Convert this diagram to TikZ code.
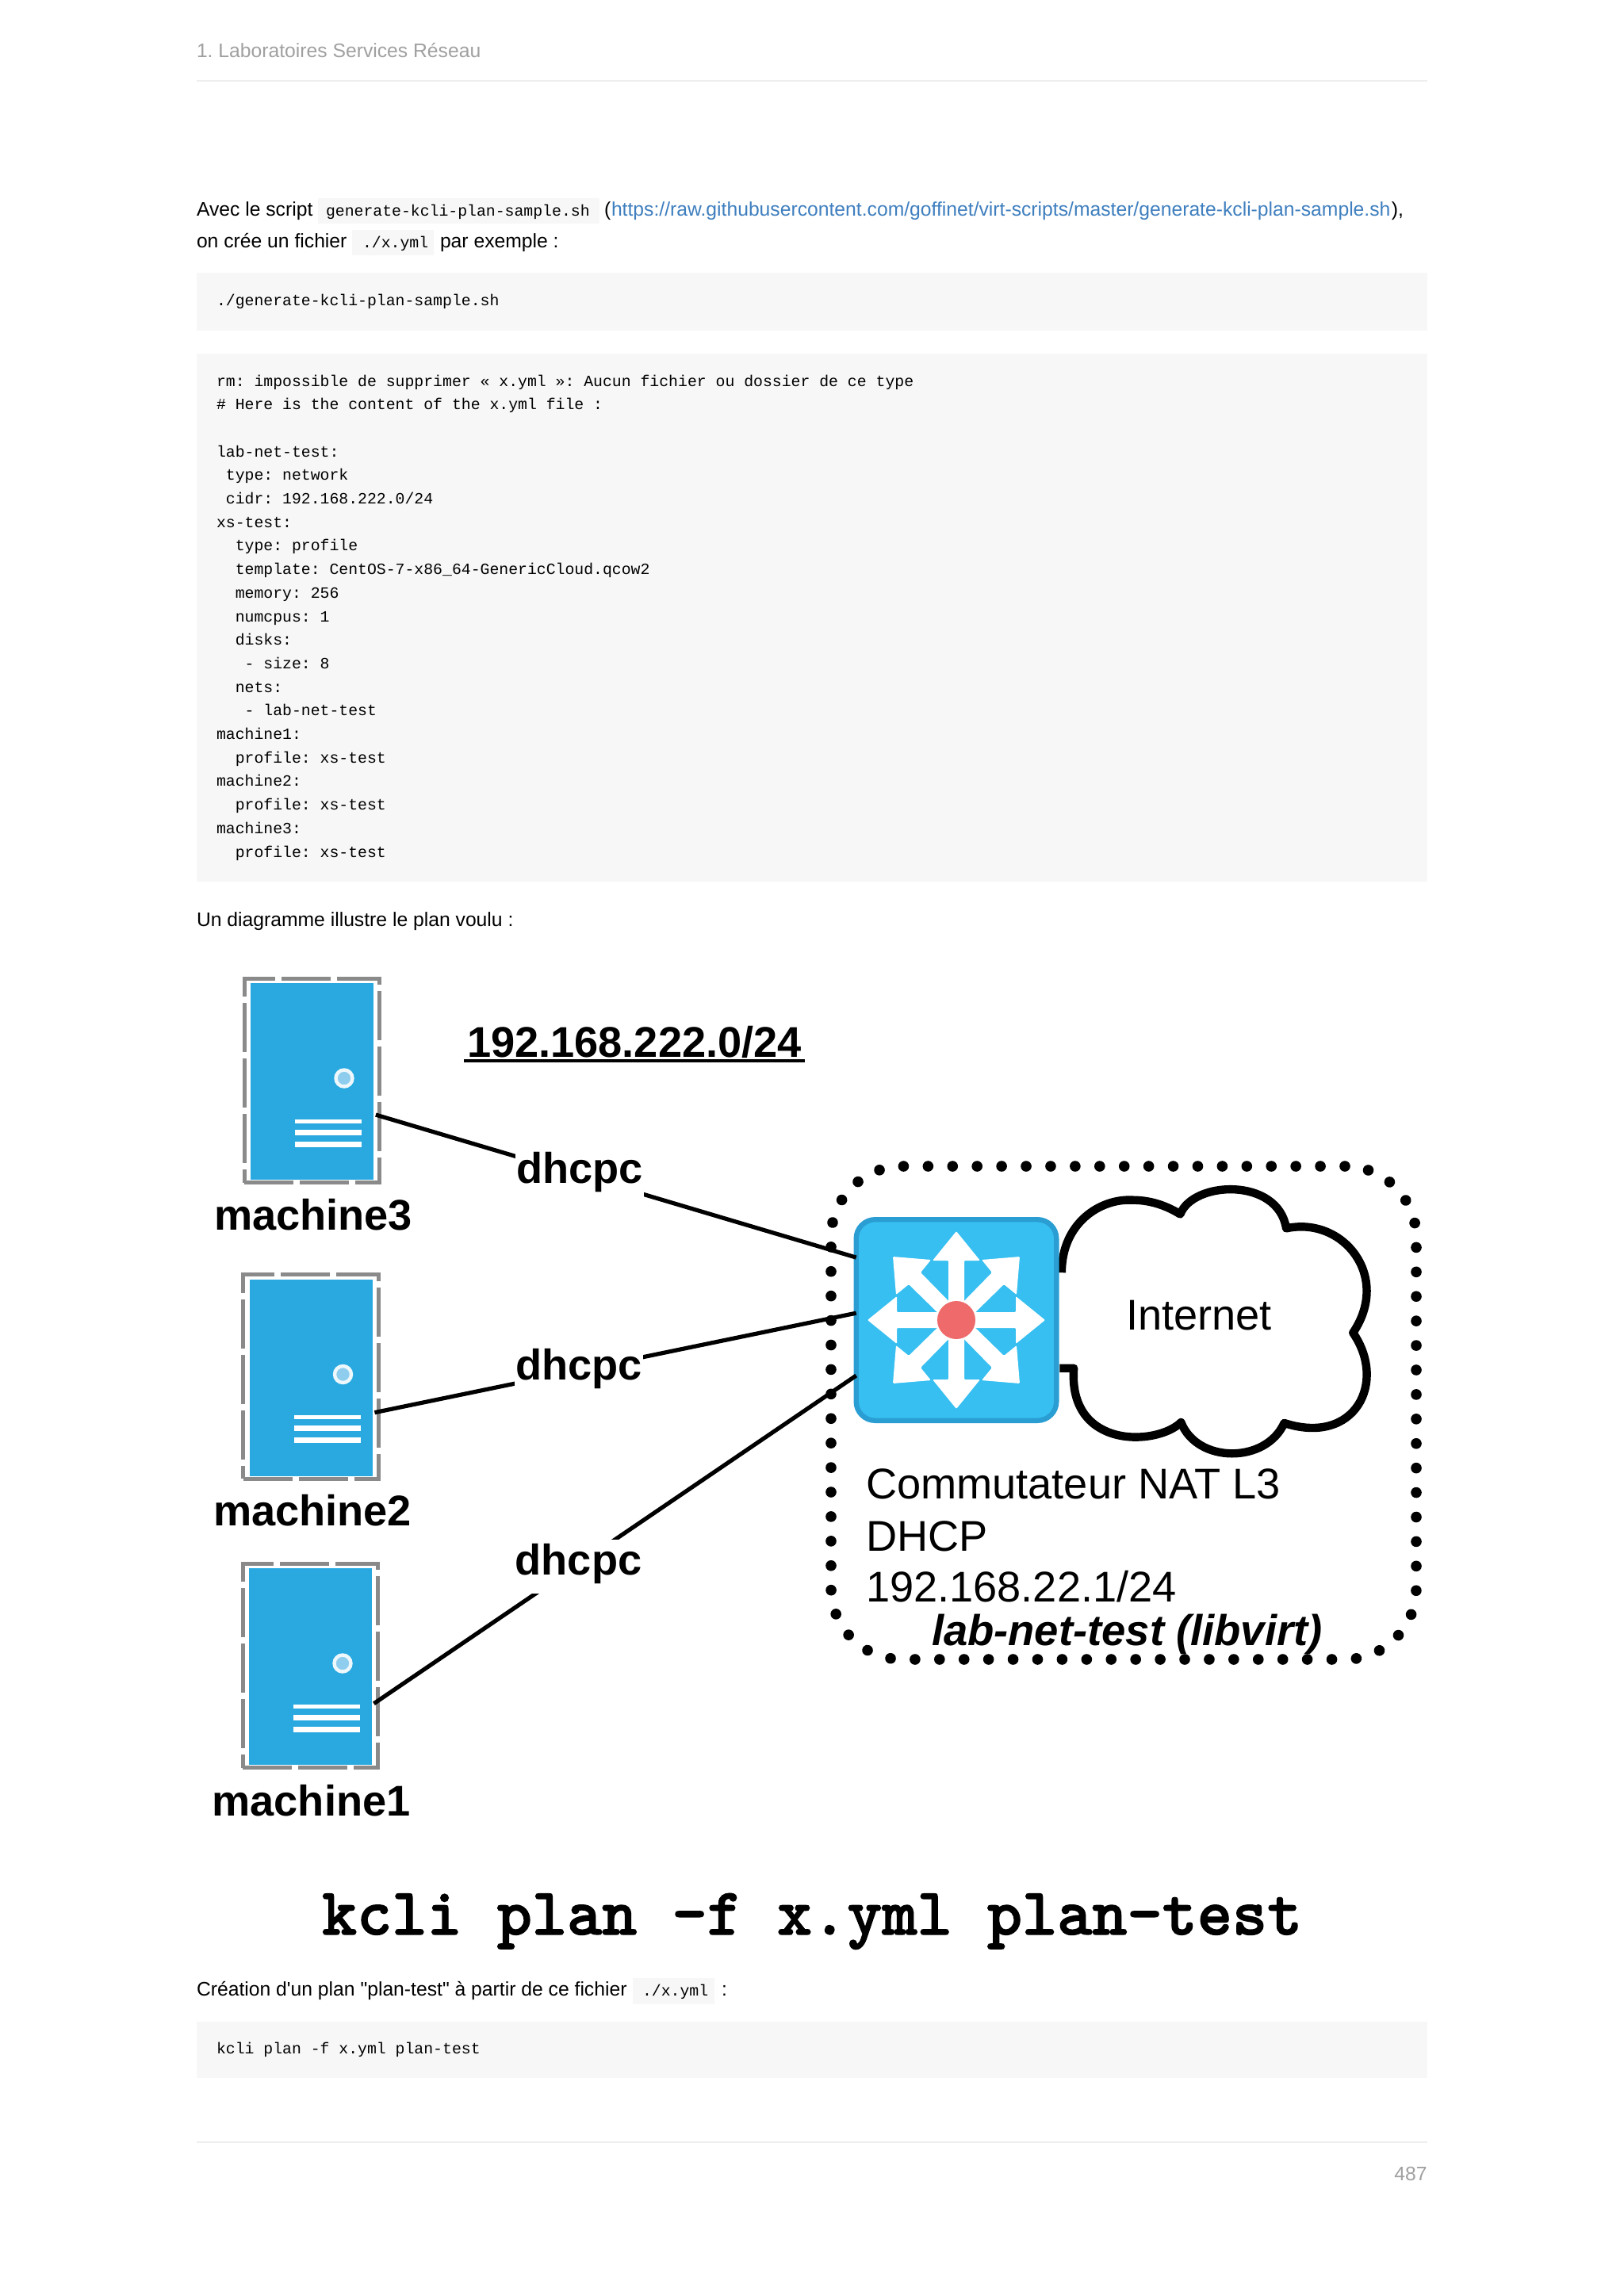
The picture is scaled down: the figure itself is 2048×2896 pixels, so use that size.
\documentclass[tikz,border=0pt]{standalone}
\usepackage{fontspec}
\setmainfont{Liberation Sans}
\newfontfamily\codefam{Liberation Mono}
\newfontfamily\plainfam{Liberation Sans}
\font\cmdfont="[lmmonolt10-bold]:embolden=1.6" at 42.05pt
\newcommand\fsz[1]{\fontsize{#1pt}{1.2\dimexpr#1pt\relax}\selectfont}
\definecolor{headgray}{HTML}{A0A0A0}
\definecolor{rulegray}{HTML}{EEEEEE}
\definecolor{codebg}{HTML}{F7F7F7}
\definecolor{linkblue}{HTML}{3F7FBF}
\definecolor{srvblue}{HTML}{29A9E0}
\definecolor{srvframe}{HTML}{8A8A8A}
\definecolor{ledblue}{HTML}{8FCDEE}
\definecolor{swfill}{HTML}{36BFF0}
\definecolor{swedge}{HTML}{2A9ED3}
\definecolor{swred}{HTML}{EF6A6A}
\tikzset{
  bodytext/.style={anchor=base west,inner sep=0pt,outer sep=0pt,font=\plainfam\fsz{12.35}},
  codetext/.style={anchor=base west,inner sep=0pt,outer sep=0pt,font=\codefam\fsz{9.9}},
  codeblock/.style={anchor=north west,fill=codebg,inner sep=0pt,outer sep=0pt,minimum width=776pt},
  inlinebg/.style={anchor=north west,fill=codebg,inner sep=0pt,outer sep=0pt},
  biglabel/.style={anchor=base west,inner sep=0pt,outer sep=0pt,font=\bfseries\fsz{27.1}},
  thinlabel/.style={anchor=base west,inner sep=0pt,outer sep=0pt,font=\fsz{27.1}},
  dhcplabel/.style={anchor=base,fill=white,inner sep=0pt,outer sep=0pt,minimum width=81pt,font=\bfseries\fsz{27.1}},
  wire/.style={draw=black,line width=2.6pt,shorten <=1.5pt},
}
\newcommand\machinebox[3]{%
  \node[draw=srvframe,line width=2.4pt,dash pattern=on 31pt off 4pt,inner sep=0pt,outer sep=0pt,
        minimum width=85.3pt,minimum height=128.8pt] (#1frame) at (#2,#3-1) {};
  \node[fill=srvblue,inner sep=0pt,outer sep=0pt,minimum width=77.5pt,minimum height=124pt] (#1) at (#2,#3) {};
  \node[circle,fill=ledblue,draw=white!85!ledblue,line width=2.2pt,inner sep=0pt,minimum size=10.5pt] (#1led) at (#2+40.5,#3-4) {};
  \fill[white] (#2-21.5,#3+47.5) rectangle (#2+62.5,#3+52.5);
  \fill[white] (#2-21.5,#3+60.5) rectangle (#2+62.5,#3+67.5);
  \fill[white] (#2-21.5,#3+75.5) rectangle (#2+62.5,#3+82.5);
}
\begin{document}
\frenchspacing
\begin{tikzpicture}[x=0.5pt,y=-0.5pt]
\useasboundingbox (0,0) rectangle (2048,2896);
\fill[white] (0,0) rectangle (2048,2896);

% header and footer
\node[bodytext,text=headgray] (head) at (248,72) {1. Laboratoires Services Réseau};
\fill[rulegray] (248,101) rectangle (1800,103);
\fill[rulegray] (248,2701) rectangle (1800,2703);
\node[anchor=base east,inner sep=0pt,font=\fsz{12.35},text=headgray] (pageno) at (1800,2750) {487};

% first paragraph
\node[inlinebg,minimum width=177.5pt,minimum height=16pt] (bgA) at (401,250) {};
\node[inlinebg,minimum width=51.5pt,minimum height=16pt] (bgB) at (444,290) {};
\node[bodytext] (p1) at (248,272) {Avec le script};
\node[codetext] (c1) at (411,272) {generate-kcli-plan-sample.sh};
\node[bodytext] (p2) at (762,272) {(};
\node[bodytext,text=linkblue] (url) at (771,272) {https://raw.githubusercontent.com/goffinet/virt-scripts/master/generate-kcli-plan-sample.sh};
\node[bodytext,anchor=base east] (p3) at (1770,272) {),};
\node[bodytext] (p4) at (248,312) {on crée un fichier};
\node[codetext] (c2) at (457,312) {./x.yml};
\node[bodytext] (p5) at (555,312) {par exemple :};

% code blocks
\node[codeblock,minimum height=36.5pt] (blockA) at (248,344) {};
\node[codetext] (a1) at (273,385) {./generate-kcli-plan-sample.sh};
\node[codeblock,minimum height=333pt] (blockB) at (248,446) {};
\foreach \codeline [count=\n] in {
  rm: impossible de supprimer « x.yml »: Aucun fichier ou dossier de ce type,
  \# Here is the content of the x.yml file :,
  {},
  lab-net-test:,
  ~type: network,
  ~cidr: 192.168.222.0/24,
  xs-test:,
  ~~type: profile,
  ~~template: CentOS-7-x86\_64-GenericCloud.qcow2,
  ~~memory: 256,
  ~~numcpus: 1,
  ~~disks:,
  ~~~- size: 8,
  ~~nets:,
  ~~~- lab-net-test,
  machine1:,
  ~~profile: xs-test,
  machine2:,
  ~~profile: xs-test,
  machine3:,
  ~~profile: xs-test}
  {\node[codetext] (code\n) at (273,{487+29.7*(\n-1)}) {\codeline};}

\node[bodytext] (p6) at (248,1168) {Un diagramme illustre le plan voulu :};

% dotted network frame
\node[draw=black,line width=6.8pt,line cap=round,dash pattern=on 0.01pt off 15.45pt,rounded corners=45pt,
      inner sep=0pt,outer sep=0pt,minimum width=369pt,minimum height=311pt] (net) at (1417,1782) {};

% cloud
\begin{scope}[shift={(510pt,-720pt)},x=0.2551pt,y=-0.2232pt]
\draw[line width=5.2pt,line join=round] (625,370)
  .. controls (625,230) and (720,160) .. (800,165)
  .. controls (850,165) and (890,185) .. (918,205)
  .. controls (950,110) and (1160,100) .. (1180,245)
  .. controls (1320,210) and (1440,380) .. (1345,540)
  .. controls (1430,680) and (1350,860) .. (1175,795)
  .. controls (1130,910) and (960,910) .. (920,793)
  .. controls (860,860) and (640,870) .. (655,640)
  -- (620,640);
\end{scope}

% machines
\machinebox{mthree}{393.5}{1364}
\machinebox{mtwo}{392}{1737.5}
\machinebox{mone}{391.5}{2102}

% switch
\node[fill=swfill,draw=swedge,line width=3.2pt,rounded corners=12pt,inner sep=0pt,outer sep=0pt,
      minimum width=126.3pt,minimum height=126.8pt] (sw) at (1206,1665) {};
\begin{scope}[shift={(603pt,-832.5pt)}]
\foreach \a in {0,90,180,270}{
  \begin{scope}[rotate=\a]
  \fill[white,rounded corners=0.6pt] (0,-112) -- (30,-75) -- (10,-75) -- (10,0) -- (-10,0) -- (-10,-75) -- (-30,-75) -- cycle;
  \fill[white,rounded corners=0.6pt] (-80,-80) -- (-32,-76) -- (-45,-60) -- (0,-14) -- (-14,0) -- (-60,-45) -- (-76,-32) -- cycle;
  \end{scope}
}
\end{scope}
\node[circle,fill=swred,inner sep=0pt,outer sep=0pt,minimum size=24pt] (swcore) at (sw.center) {};

% connectors
\draw[wire] (mthree.-28.5) -- (sw.148.2);
\draw[wire] (mtwo.-30.6) -- (sw.176.9);
\draw[wire] (mone.-32.5) -- (sw.209.5);

% labels
\node[dhcplabel,text height=23.5pt,text depth=10pt] (dA) at (731,1492) {dhcpc};
\node[dhcplabel,text height=20pt,text depth=10pt] (dB) at (730,1740) {dhcpc};
\node[dhcplabel,text height=22pt,text depth=12pt] (dC) at (729.5,1986) {dhcpc};
\node[biglabel] (lthree) at (270,1551) {machine3};
\node[biglabel] (ltwo) at (269,1924.5) {machine2};
\node[biglabel] (lone) at (267.5,2290) {machine1};
\node[anchor=base west,inner sep=0pt,outer sep=0pt,font=\bfseries\fsz{27.1}] (subnet) at (589,1333) {192.168.222.0/24};
\draw[line width=1.8pt] ([xshift=-2pt,yshift=-2.6pt]subnet.base west) -- ([xshift=2pt,yshift=-2.6pt]subnet.base east);
\node[thinlabel] (inet) at (1420,1677) {Internet};
\node[thinlabel] (tA) at (1092,1890) {Commutateur NAT L3};
\node[thinlabel] (tB) at (1092,1956) {DHCP};
\node[thinlabel] (tC) at (1092,2020) {192.168.22.1/24};
\node[anchor=base west,inner sep=0pt,outer sep=0pt,font=\bfseries\itshape\fsz{27.2}] (labnet) at (1175,2075) {lab-net-test (libvirt)};

% command
\node[anchor=base west,inner sep=0pt,outer sep=0pt,font=\cmdfont] (cmd) at (406,2440) {kcli plan -f x.yml plan-test};

% last paragraph
\node[inlinebg,minimum width=51.5pt,minimum height=16.5pt] (bgC) at (798,2495) {};
\node[bodytext] (p7) at (248,2517) {Création d'un plan "plan-test" à partir de ce fichier};
\node[codetext] (c3) at (810,2517) {./x.yml};
\node[bodytext] (p8) at (910,2517) {:};
\node[codeblock,minimum height=35.5pt] (blockC) at (248,2550) {};
\node[codetext] (k1) at (273,2590) {kcli plan -f x.yml plan-test};
\end{tikzpicture}
\end{document}
